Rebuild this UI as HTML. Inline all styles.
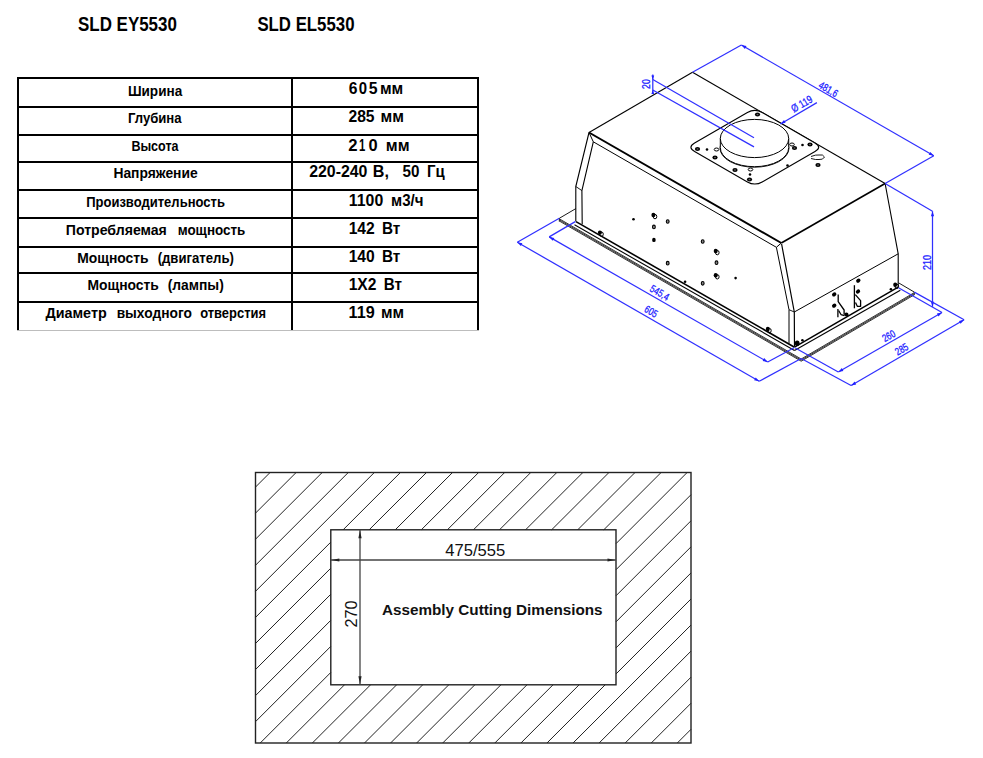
<!DOCTYPE html>
<html><head><meta charset="utf-8"><style>
html,body{margin:0;padding:0;background:#fff;}
svg{display:block;white-space:pre;font-family:"Liberation Sans",sans-serif;}
</style></head><body>
<svg width="983" height="758" viewBox="0 0 983 758">
<rect width="983" height="758" fill="#fff"/>
<rect x="17" y="77" width="462" height="2" fill="#000"/>
<rect x="17" y="106" width="462" height="2" fill="#000"/>
<rect x="17" y="134" width="462" height="2" fill="#000"/>
<rect x="17" y="161" width="462" height="2" fill="#000"/>
<rect x="17" y="189" width="462" height="2" fill="#000"/>
<rect x="17" y="217" width="462" height="2" fill="#000"/>
<rect x="17" y="246" width="462" height="2" fill="#000"/>
<rect x="17" y="272" width="462" height="2" fill="#000"/>
<rect x="17" y="301" width="462" height="2" fill="#000"/>
<rect x="17" y="77" width="2" height="253" fill="#000"/>
<rect x="291" y="77" width="2" height="253" fill="#000"/>
<rect x="477" y="77" width="2" height="253" fill="#000"/>
<rect x="17" y="330" width="462" height="1" fill="#bdbdbd"/>
<text xml:space="preserve" x="77.99" y="31.20" font-size="19.5" font-weight="bold" fill="#000" textLength="98.91" lengthAdjust="spacingAndGlyphs">SLD EY5530</text>
<text xml:space="preserve" x="257.40" y="31.20" font-size="19.5" font-weight="bold" fill="#000" textLength="97.08" lengthAdjust="spacingAndGlyphs">SLD EL5530</text>
<text xml:space="preserve" x="127.92" y="95.90" font-size="14" font-weight="bold" fill="#000" textLength="54.32" lengthAdjust="spacingAndGlyphs">Ширина</text>
<text xml:space="preserve" x="127.95" y="123.30" font-size="14" font-weight="bold" fill="#000" textLength="53.66" lengthAdjust="spacingAndGlyphs">Глубина</text>
<text xml:space="preserve" x="131.39" y="151.20" font-size="14" font-weight="bold" fill="#000" textLength="47.14" lengthAdjust="spacingAndGlyphs">Высота</text>
<text xml:space="preserve" x="113.40" y="178.30" font-size="14" font-weight="bold" fill="#000" textLength="84.29" lengthAdjust="spacingAndGlyphs">Напряжение</text>
<text xml:space="preserve" x="86.15" y="207.00" font-size="14" font-weight="bold" fill="#000" textLength="138.76" lengthAdjust="spacingAndGlyphs">Производительность</text>
<text xml:space="preserve" x="65.78" y="234.80" font-size="14" font-weight="bold" fill="#000" textLength="101.09" lengthAdjust="spacingAndGlyphs">Потребляемая</text>
<text xml:space="preserve" x="177.66" y="234.80" font-size="14" font-weight="bold" fill="#000" textLength="67.62" lengthAdjust="spacingAndGlyphs">мощность</text>
<text xml:space="preserve" x="77.20" y="262.60" font-size="14" font-weight="bold" fill="#000" textLength="71.46" lengthAdjust="spacingAndGlyphs">Мощность</text>
<text xml:space="preserve" x="157.64" y="262.60" font-size="14" font-weight="bold" fill="#000" textLength="76.30" lengthAdjust="spacingAndGlyphs">(двигатель)</text>
<text xml:space="preserve" x="87.40" y="290.30" font-size="14" font-weight="bold" fill="#000" textLength="71.46" lengthAdjust="spacingAndGlyphs">Мощность</text>
<text xml:space="preserve" x="167.71" y="290.30" font-size="14" font-weight="bold" fill="#000" textLength="56.09" lengthAdjust="spacingAndGlyphs">(лампы)</text>
<text xml:space="preserve" x="45.46" y="318.30" font-size="14" font-weight="bold" fill="#000" textLength="61.24" lengthAdjust="spacingAndGlyphs">Диаметр</text>
<text xml:space="preserve" x="116.64" y="318.30" font-size="14" font-weight="bold" fill="#000" textLength="75.23" lengthAdjust="spacingAndGlyphs">выходного</text>
<text xml:space="preserve" x="200.18" y="318.30" font-size="14" font-weight="bold" fill="#000" textLength="65.80" lengthAdjust="spacingAndGlyphs">отверстия</text>
<text xml:space="preserve" x="348.75" y="94.00" font-size="16" font-weight="bold" fill="#000" textLength="8.71" lengthAdjust="spacingAndGlyphs">6</text>
<text xml:space="preserve" x="358.70" y="94.00" font-size="16" font-weight="bold" fill="#000" textLength="8.31" lengthAdjust="spacingAndGlyphs">0</text>
<text xml:space="preserve" x="368.63" y="94.00" font-size="16" font-weight="bold" fill="#000" textLength="8.79" lengthAdjust="spacingAndGlyphs">5</text>
<text xml:space="preserve" x="379.90" y="94.00" font-size="16" font-weight="bold" fill="#000" textLength="23.30" lengthAdjust="spacingAndGlyphs">мм</text>
<text xml:space="preserve" x="348.45" y="122.00" font-size="16" font-weight="bold" fill="#000" textLength="26.09" lengthAdjust="spacingAndGlyphs">285</text>
<text xml:space="preserve" x="380.59" y="122.00" font-size="16" font-weight="bold" fill="#000" textLength="23.41" lengthAdjust="spacingAndGlyphs">мм</text>
<text xml:space="preserve" x="348.32" y="151.00" font-size="16" font-weight="bold" fill="#000" textLength="9.27" lengthAdjust="spacingAndGlyphs">2</text>
<text xml:space="preserve" x="358.92" y="151.00" font-size="16" font-weight="bold" fill="#000" textLength="6.27" lengthAdjust="spacingAndGlyphs">1</text>
<text xml:space="preserve" x="368.54" y="151.00" font-size="16" font-weight="bold" fill="#000" textLength="9.13" lengthAdjust="spacingAndGlyphs">0</text>
<text xml:space="preserve" x="385.88" y="151.00" font-size="16" font-weight="bold" fill="#000" textLength="23.74" lengthAdjust="spacingAndGlyphs">мм</text>
<text xml:space="preserve" x="309.14" y="177.00" font-size="16" font-weight="bold" fill="#000" textLength="58.29" lengthAdjust="spacingAndGlyphs">220-240</text>
<text xml:space="preserve" x="372.85" y="177.00" font-size="16" font-weight="bold" fill="#000" textLength="16.09" lengthAdjust="spacingAndGlyphs">В,</text>
<text xml:space="preserve" x="402.54" y="177.00" font-size="16" font-weight="bold" fill="#000" textLength="16.90" lengthAdjust="spacingAndGlyphs">50</text>
<text xml:space="preserve" x="426.93" y="177.00" font-size="16" font-weight="bold" fill="#000" textLength="17.67" lengthAdjust="spacingAndGlyphs">Гц</text>
<text xml:space="preserve" x="348.85" y="205.80" font-size="16" font-weight="bold" fill="#000" textLength="34.38" lengthAdjust="spacingAndGlyphs">1100</text>
<text xml:space="preserve" x="391.05" y="205.80" font-size="16" font-weight="bold" fill="#000" textLength="32.39" lengthAdjust="spacingAndGlyphs">м3/ч</text>
<text xml:space="preserve" x="348.66" y="234.00" font-size="16" font-weight="bold" fill="#000" textLength="26.04" lengthAdjust="spacingAndGlyphs">142</text>
<text xml:space="preserve" x="382.01" y="234.00" font-size="16" font-weight="bold" fill="#000" textLength="18.33" lengthAdjust="spacingAndGlyphs">Вт</text>
<text xml:space="preserve" x="348.66" y="262.00" font-size="16" font-weight="bold" fill="#000" textLength="26.04" lengthAdjust="spacingAndGlyphs">140</text>
<text xml:space="preserve" x="382.01" y="262.00" font-size="16" font-weight="bold" fill="#000" textLength="18.33" lengthAdjust="spacingAndGlyphs">Вт</text>
<text xml:space="preserve" x="348.66" y="290.00" font-size="16" font-weight="bold" fill="#000" textLength="27.75" lengthAdjust="spacingAndGlyphs">1X2</text>
<text xml:space="preserve" x="383.71" y="290.00" font-size="16" font-weight="bold" fill="#000" textLength="18.23" lengthAdjust="spacingAndGlyphs">Вт</text>
<text xml:space="preserve" x="348.63" y="318.00" font-size="16" font-weight="bold" fill="#000" textLength="26.09" lengthAdjust="spacingAndGlyphs">119</text>
<text xml:space="preserve" x="380.91" y="318.00" font-size="16" font-weight="bold" fill="#000" textLength="23.08" lengthAdjust="spacingAndGlyphs">мм</text>
<text xml:space="preserve" x="445.27" y="555.90" font-size="16" font-weight="normal" fill="#111" textLength="59.99" lengthAdjust="spacingAndGlyphs">475/555</text>
<text xml:space="preserve" x="381.92" y="615.00" font-size="15.5" font-weight="bold" fill="#111" textLength="220.72" lengthAdjust="spacingAndGlyphs">Assembly Cutting Dimensions</text>
<g stroke="#222" stroke-width="1"><line x1="255.50" y1="487.07" x2="270.07" y2="472.50"/><line x1="255.50" y1="513.14" x2="296.14" y2="472.50"/><line x1="255.50" y1="539.20" x2="322.20" y2="472.50"/><line x1="255.50" y1="565.27" x2="348.27" y2="472.50"/><line x1="255.50" y1="591.34" x2="374.34" y2="472.50"/><line x1="255.50" y1="617.41" x2="330.80" y2="542.11"/><line x1="343.11" y1="529.80" x2="400.41" y2="472.50"/><line x1="255.50" y1="643.47" x2="330.80" y2="568.17"/><line x1="369.17" y1="529.80" x2="426.47" y2="472.50"/><line x1="255.50" y1="669.54" x2="330.80" y2="594.24"/><line x1="395.24" y1="529.80" x2="452.54" y2="472.50"/><line x1="255.50" y1="695.61" x2="330.80" y2="620.31"/><line x1="421.31" y1="529.80" x2="478.61" y2="472.50"/><line x1="255.50" y1="721.67" x2="330.80" y2="646.37"/><line x1="447.37" y1="529.80" x2="504.67" y2="472.50"/><line x1="260.24" y1="743.00" x2="330.80" y2="672.44"/><line x1="473.44" y1="529.80" x2="530.74" y2="472.50"/><line x1="286.31" y1="743.00" x2="344.51" y2="684.80"/><line x1="499.51" y1="529.80" x2="556.81" y2="472.50"/><line x1="312.37" y1="743.00" x2="370.57" y2="684.80"/><line x1="525.57" y1="529.80" x2="582.87" y2="472.50"/><line x1="338.44" y1="743.00" x2="396.64" y2="684.80"/><line x1="551.64" y1="529.80" x2="608.94" y2="472.50"/><line x1="364.51" y1="743.00" x2="422.71" y2="684.80"/><line x1="577.71" y1="529.80" x2="635.01" y2="472.50"/><line x1="390.58" y1="743.00" x2="448.78" y2="684.80"/><line x1="603.78" y1="529.80" x2="661.08" y2="472.50"/><line x1="416.64" y1="743.00" x2="474.84" y2="684.80"/><line x1="616.00" y1="543.64" x2="687.14" y2="472.50"/><line x1="442.71" y1="743.00" x2="500.91" y2="684.80"/><line x1="616.00" y1="569.71" x2="691.00" y2="494.71"/><line x1="468.78" y1="743.00" x2="526.98" y2="684.80"/><line x1="616.00" y1="595.78" x2="691.00" y2="520.78"/><line x1="494.84" y1="743.00" x2="553.04" y2="684.80"/><line x1="616.00" y1="621.84" x2="691.00" y2="546.84"/><line x1="520.91" y1="743.00" x2="579.11" y2="684.80"/><line x1="616.00" y1="647.91" x2="691.00" y2="572.91"/><line x1="546.98" y1="743.00" x2="605.18" y2="684.80"/><line x1="616.00" y1="673.98" x2="691.00" y2="598.98"/><line x1="573.04" y1="743.00" x2="691.00" y2="625.04"/><line x1="599.11" y1="743.00" x2="691.00" y2="651.11"/><line x1="625.18" y1="743.00" x2="691.00" y2="677.18"/><line x1="651.24" y1="743.00" x2="691.00" y2="703.24"/><line x1="677.31" y1="743.00" x2="691.00" y2="729.31"/></g>
<g fill="none" stroke="#222" stroke-width="1.4">
<rect x="255.5" y="472.5" width="435.5" height="270.5"/>
<rect x="330.8" y="529.8" width="285.2" height="155.0"/>
</g>
<g stroke="#444" stroke-width="1.3">
<line x1="330.8" y1="560" x2="616" y2="560"/>
<line x1="360" y1="529.8" x2="360" y2="684.8"/>
</g>
<g fill="#222">
<path d="M331.3,560 l8,-1.6 l0,3.2z"/>
<path d="M615.5,560 l-8,-1.6 l0,3.2z"/>
<path d="M360,530.3 l-1.6,8 l3.2,0z"/>
<path d="M360,684.3 l-1.6,-8 l3.2,0z"/>
</g>
<text transform="translate(357.2,627.4) rotate(-90)" font-size="16.3" fill="#111" textLength="27" lengthAdjust="spacingAndGlyphs">270</text>

<line x1="559.3" y1="218.3" x2="576.0" y2="208.5" stroke="#000" stroke-width="0.9"/>
<line x1="559.3" y1="218.8" x2="801.2" y2="359.0" stroke="#000" stroke-width="0.8"/>
<line x1="559.3" y1="219.9" x2="801.2" y2="360.1" stroke="#000" stroke-width="0.8"/>
<line x1="559.3" y1="221.0" x2="801.2" y2="361.2" stroke="#000" stroke-width="0.8"/>
<line x1="801.2" y1="359.0" x2="914.3" y2="292.6" stroke="#000" stroke-width="0.8"/>
<line x1="801.2" y1="360.1" x2="914.3" y2="293.7" stroke="#000" stroke-width="0.8"/>
<line x1="801.2" y1="361.2" x2="914.3" y2="294.8" stroke="#000" stroke-width="0.8"/>
<line x1="914.3" y1="292.1" x2="914.3" y2="295.1" stroke="#000" stroke-width="0.8"/>
<line x1="898.5" y1="282.8" x2="914.3" y2="292.1" stroke="#000" stroke-width="0.9"/>
<line x1="559.3" y1="218.3" x2="559.3" y2="221.6" stroke="#000" stroke-width="0.8"/>
<polygon points="589.0,132.5 781.3,243.0 794.3,312.0 794.5,346.5 575.8,221.4 575.8,186.5" fill="#fff" stroke="none"/>
<polygon points="781.3,243.0 885.1,183.5 898.2,253.8 898.2,287.0 794.5,346.5 794.3,312.0" fill="#fff" stroke="none"/>
<line x1="576.0" y1="221.6" x2="794.5" y2="347.2" stroke="#000" stroke-width="1.6"/>
<line x1="574.5" y1="224.8" x2="794.5" y2="350.4" stroke="#000" stroke-width="1.1"/>
<line x1="794.5" y1="347.2" x2="898.2" y2="287.2" stroke="#000" stroke-width="1.5"/>
<line x1="794.5" y1="350.4" x2="900.3" y2="290.2" stroke="#000" stroke-width="1.1"/>
<polygon points="589.0,132.5 692.5,72.2 885.1,183.5 781.3,243.0" fill="#fff" stroke="none"/>
<line x1="589.0" y1="132.5" x2="692.5" y2="72.2" stroke="#000" stroke-width="1.1"/>
<line x1="692.5" y1="72.2" x2="885.1" y2="183.5" stroke="#000" stroke-width="1.1"/>
<line x1="589.0" y1="132.5" x2="781.3" y2="243.0" stroke="#000" stroke-width="2.0"/>
<line x1="781.3" y1="243.0" x2="885.1" y2="183.5" stroke="#000" stroke-width="1.6"/>
<line x1="593.3" y1="141.8" x2="776.4" y2="247.3" stroke="#000" stroke-width="1.0"/>
<line x1="589.0" y1="132.5" x2="593.3" y2="141.8" stroke="#000" stroke-width="1.0"/>
<line x1="781.3" y1="243.0" x2="776.4" y2="247.3" stroke="#000" stroke-width="1.0"/>
<polyline points="589.0,132.5 575.8,186.5 575.8,221.4" fill="none" stroke="#000" stroke-width="1.1" stroke-linejoin="round"/>
<polyline points="593.3,141.8 581.9,190.6 582.2,224.2" fill="none" stroke="#000" stroke-width="1.1" stroke-linejoin="round"/>
<line x1="575.8" y1="186.5" x2="581.9" y2="190.6" stroke="#000" stroke-width="0.9"/>
<polyline points="781.6,244.0 794.3,312.0 794.5,346.5" fill="none" stroke="#000" stroke-width="1.2" stroke-linejoin="round"/>
<polyline points="776.4,247.3 789.0,309.7 789.0,343.7" fill="none" stroke="#000" stroke-width="1.0" stroke-linejoin="round"/>
<line x1="789.0" y1="309.7" x2="794.3" y2="312.0" stroke="#000" stroke-width="0.9"/>
<polyline points="885.1,183.5 898.2,253.8 898.2,287.0" fill="none" stroke="#000" stroke-width="1.1" stroke-linejoin="round"/>
<line x1="794.3" y1="312.0" x2="898.2" y2="253.8" stroke="#000" stroke-width="1.0"/>
<path d="M747.4,112.5 Q754.8,108.2 762.2,112.5 L815.0,142.9 Q822.4,147.2 815.0,151.5 L762.2,181.9 Q754.8,186.2 747.4,181.9 L694.6,151.5 Q687.2,147.2 694.6,142.9 Z" fill="#fff" stroke="#000" stroke-width="1.1"/>
<ellipse cx="754.5" cy="148.1" rx="34.5" ry="19.1" fill="none" stroke="#000" stroke-width="0.9"/>
<path d="M720.3,138.5 L720.3,147.6 A34.2,19.1 0 0 0 788.7,147.6 L788.7,138.5 Z" fill="#fff" stroke="#000" stroke-width="1"/>
<ellipse cx="754.5" cy="138.5" rx="34.2" ry="19.1" fill="#fff" stroke="#000" stroke-width="1"/>
<ellipse cx="633.5" cy="219.2" rx="1.3" ry="1.3" fill="#000"/>
<ellipse cx="653.4000000000001" cy="215.0" rx="2.0" ry="2.2" fill="#000"/><ellipse cx="655.0" cy="216.60000000000002" rx="1.8" ry="2.2" fill="none" stroke="#000" stroke-width="1"/>
<ellipse cx="667.7" cy="221.5" rx="1.4" ry="1.8" fill="#888" stroke="#000" stroke-width="1.1"/>
<ellipse cx="653.9" cy="226.9" rx="1.4" ry="1.8" fill="#888" stroke="#000" stroke-width="1.1"/>
<ellipse cx="653.9" cy="239.9" rx="1.8" ry="2.2" fill="#000"/>
<ellipse cx="667.7" cy="263.2" rx="1.4" ry="1.8" fill="#888" stroke="#000" stroke-width="1.1"/>
<ellipse cx="702.7" cy="241.5" rx="1.4" ry="1.8" fill="#888" stroke="#000" stroke-width="1.1"/>
<ellipse cx="715.7" cy="251.0" rx="2.0" ry="2.2" fill="#000"/><ellipse cx="717.3" cy="252.60000000000002" rx="1.8" ry="2.2" fill="none" stroke="#000" stroke-width="1"/>
<ellipse cx="716.5" cy="262.7" rx="1.4" ry="1.8" fill="#888" stroke="#000" stroke-width="1.1"/>
<ellipse cx="715.7" cy="275.2" rx="2.0" ry="2.2" fill="#000"/><ellipse cx="717.3" cy="276.8" rx="1.8" ry="2.2" fill="none" stroke="#000" stroke-width="1"/>
<ellipse cx="735.6" cy="278.1" rx="1.3" ry="1.3" fill="#000"/>
<ellipse cx="702.7" cy="283.3" rx="1.4" ry="1.8" fill="#888" stroke="#000" stroke-width="1.1"/>
<ellipse cx="685.1" cy="281.7" rx="1.3" ry="1.3" fill="#000"/>
<ellipse cx="599.9000000000001" cy="232.6" rx="2.0" ry="2.2" fill="#000"/><ellipse cx="601.5" cy="234.20000000000002" rx="1.8" ry="2.2" fill="none" stroke="#000" stroke-width="1"/>
<ellipse cx="767.8000000000001" cy="329.0" rx="2.0" ry="2.2" fill="#000"/><ellipse cx="769.4" cy="330.6" rx="1.8" ry="2.2" fill="none" stroke="#000" stroke-width="1"/>
<ellipse cx="797.2" cy="343.2" rx="2.4" ry="2.8" fill="#000"/>
<ellipse cx="802.4" cy="340.2" rx="1.3" ry="1.3" fill="#000"/>
<ellipse cx="895.2" cy="284.7" rx="2.0" ry="2.2" fill="#000"/><ellipse cx="896.8" cy="286.3" rx="1.8" ry="2.2" fill="none" stroke="#000" stroke-width="1"/>
<ellipse cx="890.9" cy="289.3" rx="1.3" ry="1.3" fill="#000"/>
<ellipse cx="757.5" cy="114.5" rx="2.6" ry="2.1" fill="#000"/><ellipse cx="757.5" cy="114.5" rx="1" ry="0.8" fill="#666"/>
<ellipse cx="697.5" cy="149" rx="2.6" ry="2.1" fill="#000"/><ellipse cx="697.5" cy="149" rx="1" ry="0.8" fill="#666"/>
<ellipse cx="707" cy="149.5" rx="1.3" ry="1.3" fill="#000"/>
<ellipse cx="716.5" cy="149.5" rx="2.3" ry="1.5" fill="none" stroke="#000" stroke-width="1"/>
<ellipse cx="715" cy="157.5" rx="2.6" ry="2.1" fill="#000"/><ellipse cx="715" cy="157.5" rx="1" ry="0.8" fill="#666"/>
<ellipse cx="735" cy="170" rx="2.6" ry="2.1" fill="#000"/><ellipse cx="735" cy="170" rx="1" ry="0.8" fill="#666"/>
<ellipse cx="750.5" cy="169.5" rx="2.3" ry="1.5" fill="none" stroke="#000" stroke-width="1"/>
<ellipse cx="750" cy="174.5" rx="1.3" ry="1.3" fill="#000"/>
<ellipse cx="749.5" cy="179.5" rx="2.6" ry="2.1" fill="#000"/><ellipse cx="749.5" cy="179.5" rx="1" ry="0.8" fill="#666"/>
<ellipse cx="792" cy="144.5" rx="2.3" ry="1.5" fill="none" stroke="#000" stroke-width="1"/>
<ellipse cx="794.5" cy="148" rx="2.6" ry="2.1" fill="#000"/><ellipse cx="794.5" cy="148" rx="1" ry="0.8" fill="#666"/>
<ellipse cx="802.5" cy="145" rx="1.3" ry="1.3" fill="#000"/>
<ellipse cx="810" cy="144.5" rx="2.6" ry="2.1" fill="#000"/><ellipse cx="810" cy="144.5" rx="1" ry="0.8" fill="#666"/>
<ellipse cx="787.5" cy="165.5" rx="1.3" ry="1.3" fill="#000"/>
<ellipse cx="818" cy="165" rx="2.6" ry="2.1" fill="#000"/><ellipse cx="818" cy="165" rx="1" ry="0.8" fill="#666"/>
<path d="M811,156.5 Q816,154.5 819,155 Q823,154 824.5,157 Q823,160 819,159.5 Q816,160 811,158.5" fill="#fff" stroke="#000" stroke-width="0.9"/>
<g fill="none" stroke="#000" stroke-width="1.3" stroke-linejoin="round">
<path d="M838.2,294.6 L838.2,301.7 L844.1,310 L844.1,314.5"/>
<path d="M837.9,309 L837.9,317.3"/>
<path d="M838.6,310.5 L841,314.5 L844.5,315.5"/>
<path d="M854.4,285.2 L854.4,308.3"/>
<path d="M855.3,294.6 L860.6,300.6 L860.6,306.3 L857.3,306.3 L855.5,302.5"/>
</g>
<g fill="#000"><ellipse cx="834.2" cy="294.4" rx="2.3" ry="1.9" transform="rotate(-35 834.2 294.4)"/><ellipse cx="834.2" cy="305.6" rx="2.3" ry="1.9" transform="rotate(-35 834.2 305.6)"/><ellipse cx="846.4" cy="314.5" rx="2.1" ry="2.1"/>
<ellipse cx="858.3" cy="280.6" rx="2.3" ry="1.9" transform="rotate(-35 858.3 280.6)"/><ellipse cx="858" cy="291.5" rx="2.3" ry="1.9" transform="rotate(-35 858 291.5)"/></g>
<line x1="692.5" y1="72.2" x2="741.4" y2="45.0" stroke="#3030ff" stroke-width="1.25"/>
<line x1="885.1" y1="183.5" x2="933.8" y2="155.8" stroke="#3030ff" stroke-width="1.25"/>
<line x1="741.4" y1="45.0" x2="933.8" y2="155.8" stroke="#3030ff" stroke-width="1.25"/><path d="M741.4,45.0 L744.9,48.9 L746.5,46.1Z" fill="#2020ff"/><path d="M933.8,155.8 L930.3,151.9 L928.7,154.7Z" fill="#2020ff"/>
<line x1="652.8" y1="79.5" x2="754.0" y2="137.7" stroke="#3030ff" stroke-width="1.25"/>
<line x1="652.8" y1="90.0" x2="754.0" y2="146.9" stroke="#3030ff" stroke-width="1.25"/>
<line x1="652.8" y1="74.5" x2="652.8" y2="94.0" stroke="#3030ff" stroke-width="1.25"/>
<path d="M652.8,79.5 L654.2,75.5 L651.4,75.5Z" fill="#2020ff"/>
<path d="M652.8,90.0 L651.4,94.0 L654.2,94.0Z" fill="#2020ff"/>
<line x1="780.5" y1="124.0" x2="816.9" y2="102.6" stroke="#3030ff" stroke-width="1.25"/>
<path d="M780.5,124.0 L785.6,122.8 L784.0,120.1Z" fill="#2020ff"/>
<line x1="885.1" y1="183.5" x2="932.5" y2="211.2" stroke="#3030ff" stroke-width="1.25"/>
<line x1="932.5" y1="211.2" x2="932.5" y2="306.8" stroke="#3030ff" stroke-width="1.25"/><path d="M932.5,211.2 L930.9,216.2 L934.1,216.2Z" fill="#2020ff"/><path d="M932.5,306.8 L934.1,301.8 L930.9,301.8Z" fill="#2020ff"/>
<line x1="795.3" y1="348.0" x2="838.3" y2="372.0" stroke="#3030ff" stroke-width="1.25"/>
<line x1="898.5" y1="287.7" x2="942.0" y2="312.5" stroke="#3030ff" stroke-width="1.25"/>
<line x1="838.3" y1="372.0" x2="942.0" y2="312.5" stroke="#3030ff" stroke-width="1.25"/><path d="M838.3,372.0 L843.4,370.9 L841.8,368.1Z" fill="#2020ff"/><path d="M942.0,312.5 L936.9,313.6 L938.5,316.4Z" fill="#2020ff"/>
<line x1="801.2" y1="358.5" x2="851.1" y2="385.5" stroke="#3030ff" stroke-width="1.25"/>
<line x1="914.3" y1="292.1" x2="964.1" y2="319.8" stroke="#3030ff" stroke-width="1.25"/>
<line x1="851.1" y1="385.5" x2="964.1" y2="319.8" stroke="#3030ff" stroke-width="1.25"/><path d="M851.1,385.5 L856.2,384.4 L854.6,381.6Z" fill="#2020ff"/><path d="M964.1,319.8 L959.0,320.9 L960.6,323.7Z" fill="#2020ff"/>
<line x1="559.3" y1="218.3" x2="517.3" y2="242.2" stroke="#3030ff" stroke-width="1.25"/>
<line x1="801.2" y1="358.5" x2="759.2" y2="381.3" stroke="#3030ff" stroke-width="1.25"/>
<line x1="517.3" y1="242.2" x2="759.2" y2="381.3" stroke="#3030ff" stroke-width="1.25"/><path d="M517.3,242.2 L520.8,246.1 L522.4,243.3Z" fill="#2020ff"/><path d="M759.2,381.3 L755.7,377.4 L754.1,380.2Z" fill="#2020ff"/>
<line x1="575.3" y1="221.6" x2="549.2" y2="236.9" stroke="#3030ff" stroke-width="1.25"/>
<line x1="794.1" y1="347.8" x2="767.7" y2="362.0" stroke="#3030ff" stroke-width="1.25"/>
<line x1="549.2" y1="236.9" x2="767.7" y2="362.0" stroke="#3030ff" stroke-width="1.25"/><path d="M549.2,236.9 L552.7,240.8 L554.3,238.0Z" fill="#2020ff"/><path d="M767.7,362.0 L764.2,358.1 L762.6,360.9Z" fill="#2020ff"/>
<text transform="translate(828.6,88.9) rotate(30)" font-size="10.5" fill="#2020ff" stroke="#2020ff" stroke-width="0.3" text-anchor="middle" dominant-baseline="central" textLength="20.5" lengthAdjust="spacingAndGlyphs">481,6</text>
<text transform="translate(659.9,292.4) rotate(30)" font-size="10.5" fill="#2020ff" stroke="#2020ff" stroke-width="0.3" text-anchor="middle" dominant-baseline="central" textLength="20.3" lengthAdjust="spacingAndGlyphs">545,4</text>
<text transform="translate(651.3,311.1) rotate(30)" font-size="10.5" fill="#2020ff" stroke="#2020ff" stroke-width="0.3" text-anchor="middle" dominant-baseline="central" textLength="13.2" lengthAdjust="spacingAndGlyphs">605</text>
<text transform="translate(888.5,335.6) rotate(-30)" font-size="10.5" fill="#2020ff" stroke="#2020ff" stroke-width="0.3" text-anchor="middle" dominant-baseline="central" textLength="13.2" lengthAdjust="spacingAndGlyphs">260</text>
<text transform="translate(901.4,349) rotate(-30)" font-size="10.5" fill="#2020ff" stroke="#2020ff" stroke-width="0.3" text-anchor="middle" dominant-baseline="central" textLength="13.4" lengthAdjust="spacingAndGlyphs">285</text>
<text transform="translate(926.5,262.6) rotate(-90)" font-size="11" fill="#2020ff" stroke="#2020ff" stroke-width="0.3" text-anchor="middle" dominant-baseline="central" textLength="15" lengthAdjust="spacingAndGlyphs">210</text>
<text transform="translate(646.2,84.1) rotate(-90)" font-size="11" fill="#2020ff" stroke="#2020ff" stroke-width="0.3" text-anchor="middle" dominant-baseline="central" textLength="9.6" lengthAdjust="spacingAndGlyphs">20</text>
<text transform="translate(801.6,103.6) rotate(-30)" font-size="10.8" fill="#2020ff" stroke="#2020ff" stroke-width="0.3" text-anchor="middle" dominant-baseline="central" textLength="22.5" lengthAdjust="spacingAndGlyphs">Ø 119</text>
</svg>
</body></html>
